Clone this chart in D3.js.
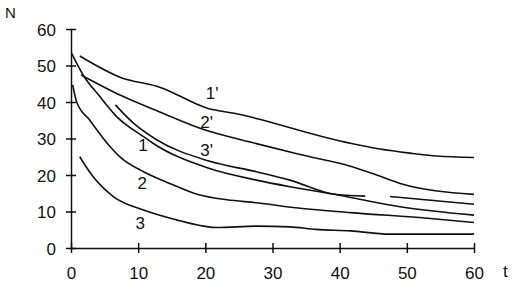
<!DOCTYPE html>
<html><head><meta charset="utf-8">
<script src="https://cdn.jsdelivr.net/npm/d3@7"></script>
<style>
html,body{margin:0;padding:0;background:#fff;}
text{font-family:"Liberation Sans",Arial,sans-serif;fill:#111;}
</style></head>
<body>
<svg id="chart" width="512" height="289"></svg>
<script>
// ---- data ----
const xTicks = [0, 10, 20, 30, 40, 50, 60];
const yTicks = [0, 10, 20, 30, 40, 50, 60];
const seriesNames = ["1'", "2'", "1", "3'", "2", "3"];
const t1p = [1.3, 7.3, 13.3, 20.3, 25.2, 27.6, 37.5, 41.6, 46, 50.9, 54.4, 60];
const n1p = [52.6, 46.8, 44.0, 38.3, 36.6, 35.5, 30.5, 28.7, 27.1, 25.9, 25.2, 24.8];
const t2p = [1.5, 7.3, 13.3, 19.2, 27.6, 34.1, 41.6, 45.5, 49, 60];
const n2p = [47.4, 41.9, 37.2, 32.8, 28.6, 25.6, 22.4, 20.0, 17.7, 14.7];
const t1 = [0.1, 1.8, 4.3, 6.8, 10.8, 12.2, 20.4, 27.6, 32.6, 39, 49, 60];
const n1 = [53.3, 47.4, 41.5, 36.0, 30.5, 28.7, 21.9, 18.6, 16.8, 14.8, 11.3, 9.0];
const t3p = [6.6, 9.3, 12.8, 20.4, 27.6, 32.6, 39, 43.8, null, 47.5, 60];
const n3p = [39.2, 34.2, 29.6, 23.9, 20.9, 18.6, 14.8, 14.2, null, 14.1, 12.0];
const t2 = [0.25, 0.85, 2.8, 5.8, 7.5, 10.8, 14.7, 19.2, 23.2, 27.6, 34.1, 41.6, 53.5, 60];
const n2 = [44.7, 40.0, 35.0, 27.8, 24.6, 20.9, 17.7, 14.5, 13.2, 12.4, 10.9, 9.7, 8.1, 7.0];
const t3 = [1.3, 3.3, 6.3, 10.8, 15.7, 19.7, 21.7, 27.6, 32.6, 36.5, 41.6, 47.4, 60];
const n3 = [25.0, 19.5, 14.1, 10.4, 7.7, 6.0, 5.6, 6.0, 5.8, 5.1, 4.7, 3.8, 3.8];
const labelT = [21.0, 20.2, 10.7, 20.2, 10.6, 10.3];
const labelN = [42.5, 34.5, 28.2, 26.8, 17.8, 6.8];
const xTitle = "t";
const yTitle = "N";

const series = [[t1p,n1p],[t2p,n2p],[t1,n1],[t3p,n3p],[t2,n2],[t3,n3]];

const svg = d3.select("#chart");
const x = d3.scaleLinear().domain([0, 60]).range([71, 474]);
const y = d3.scaleLinear().domain([0, 60]).range([248, 29]);

// axes
const gy = svg.append("g").attr("transform", `translate(${x(0)},0)`)
  .call(d3.axisLeft(y).tickValues(yTicks).tickSizeOuter(0).tickSizeInner(5).tickPadding(10));
gy.selectAll(".tick line").attr("x1", 5).attr("x2", -5);
const gx = svg.append("g").attr("transform", `translate(0,${y(0)})`)
  .call(d3.axisBottom(x).tickValues(xTicks).tickSizeOuter(0).tickSizeInner(5).tickPadding(14));
gx.selectAll(".tick line").attr("y1", -5).attr("y2", 5);
[gx, gy].forEach(g => {
  g.select(".domain").attr("stroke", "#111").attr("stroke-width", 1.5);
  g.selectAll(".tick line").attr("stroke", "#111").attr("stroke-width", 1.5);
  g.selectAll(".tick text").attr("font-size", 17).attr("fill", "#111")
    .style("font-family", '"Liberation Sans", Arial, sans-serif');
});
gy.selectAll(".tick text").attr("dy", "0.36em");

// curves
const line = d3.line()
  .defined(d => d[0] !== null)
  .x(d => x(d[0])).y(d => y(d[1]))
  .curve(d3.curveMonotoneX);
series.forEach(([ts, ns]) => {
  const pts = ts.map((t, i) => [t, ns[i]]);
  svg.append("path").datum(pts).attr("d", line)
    .attr("fill", "none").attr("stroke", "#111").attr("stroke-width", 1.6);
});

// curve labels
svg.append("g").selectAll("text").data(seriesNames).join("text")
  .attr("x", (d, i) => x(labelT[i])).attr("y", (d, i) => y(labelN[i]))
  .attr("text-anchor", "middle").attr("dy", "0.36em")
  .attr("font-size", 17).text(d => d);

// axis titles
svg.append("text").attr("x", 5).attr("y", 18).attr("font-size", 15).text(yTitle);
svg.append("text").attr("x", 503).attr("y", 277).attr("font-size", 17).text(xTitle);
</script>
</body></html>
